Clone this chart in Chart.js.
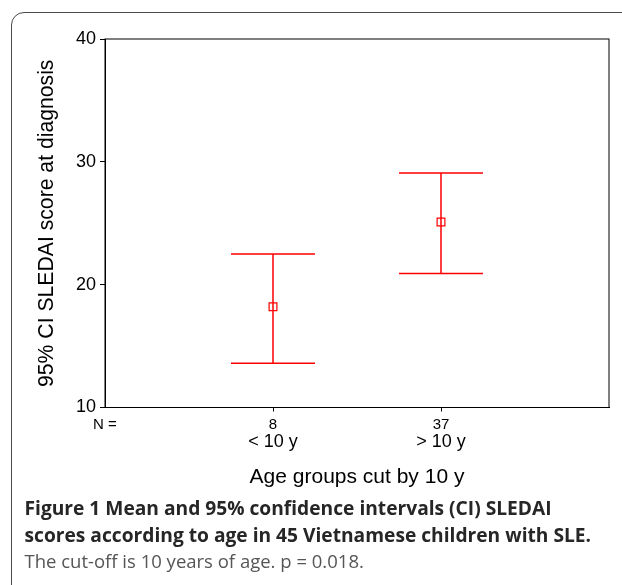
<!DOCTYPE html>
<html>
<head>
<meta charset="utf-8">
<script src="https://cdn.jsdelivr.net/npm/chart.js@4.4.1/dist/chart.umd.min.js"></script>
<style>
  body { margin: 0; background: #fff; }
  #panel { position: absolute; left: 11px; top: 12px; width: 660px; height: 640px;
           border: 1.5px solid #4a4a4a; border-radius: 13px; }
  #wrap { position: absolute; left: 0; top: 0; width: 622px; height: 500px; }
  #caption { position: absolute; left: 24.5px; top: 495px; font-family: 'Open Sans', sans-serif;
             color: #262626; white-space: nowrap; }
  #caption div { height: 26.5px; line-height: 26.5px; }
  #caption .b { font-weight: 700; font-size: 19.2px; }
  #caption .sub { color: #555; font-size: 18.5px; }
</style>
</head>
<body>
<div id="panel"></div>
<div id="wrap"><canvas id="Cnvs1"></canvas></div>
<div id="caption">
  <div class="b">Figure 1 Mean and 95% confidence intervals (CI) SLEDAI</div>
  <div class="b">scores according to age in 45 Vietnamese children with SLE.</div>
  <div class="sub">The cut-off is 10 years of age. p = 0.018.</div>
</div>
<script>
  // groups on the x axis (position 0 holds the "N =" row label)
  var groupPos = [1, 2];
  var groupLabels = ['< 10 y', '> 10 y'];
  var groupN = [8, 37];
  // mean and 95% CI of SLEDAI score
  var means = [18.2, 25.1];
  var lower = [13.6, 20.9];
  var upper = [22.5, 29.1];
  var yTicks = [10, 20, 30, 40];

  var fam = "'Liberation Sans', Arial, Helvetica, sans-serif";

  // draws the CI whiskers and the box around the plot
  var errorBars = {
    id: 'errorBars',
    afterDatasetsDraw: function(chart) {
      var c = chart.ctx, xs = chart.scales.x, ys = chart.scales.y;
      c.save();
      c.strokeStyle = '#ff0000';
      c.lineWidth = 1.5;
      for (var i = 0; i < groupPos.length; i++) {
        var x = xs.getPixelForValue(groupPos[i]);
        var x0 = xs.getPixelForValue(groupPos[i] - 0.25);
        var x1 = xs.getPixelForValue(groupPos[i] + 0.25);
        var yl = ys.getPixelForValue(lower[i]);
        var yu = ys.getPixelForValue(upper[i]);
        c.beginPath();
        c.moveTo(x, yu); c.lineTo(x, yl);
        c.moveTo(x0, yu); c.lineTo(x1, yu);
        c.moveTo(x0, yl); c.lineTo(x1, yl);
        c.stroke();
      }
      var a = chart.chartArea;
      c.strokeStyle = '#000';
      c.lineWidth = 1;
      c.strokeRect(a.left, a.top, a.right - a.left, a.bottom - a.top);
      c.restore();
    }
  };

  var Cnvs = document.getElementById('Cnvs1').getContext('2d');
  var ciChart = new Chart(Cnvs, {
    type: 'scatter',
    data: {
      datasets: [{
        data: groupPos.map(function(x, i) { return { x: x, y: means[i] }; }),
        pointStyle: 'rect',
        pointRadius: 5.5,
        pointHoverRadius: 5.5,
        borderColor: '#ff0000',
        backgroundColor: 'rgba(0,0,0,0)',
        borderWidth: 1.2
      }]
    },
    options: {
      responsive: true,
      maintainAspectRatio: false,
      animation: false,
      layout: { padding: { top: 39, right: 13, bottom: 0, left: 0 } },
      plugins: { legend: { display: false }, tooltip: { enabled: false } },
      scales: {
        // row of group sizes
        x: {
          type: 'linear', min: 0, max: 3, position: 'bottom',
          afterBuildTicks: function(s) {
            s.ticks = [{ value: 0 }].concat(groupPos.map(function(v) { return { value: v }; }));
          },
          afterFit: function(s) { s.height = 24; },
          ticks: {
            color: '#000', padding: 4, maxRotation: 0, autoSkip: false,
            font: { family: fam, size: 15 },
            callback: function(v) {
              if (v === 0) return 'N =';
              return String(groupN[groupPos.indexOf(v)]);
            }
          },
          grid: {
            drawOnChartArea: false, tickLength: 4,
            color: function(ctx) { return ctx.tick && ctx.tick.value === 0 ? 'rgba(0,0,0,0)' : '#000'; }
          },
          border: { color: '#000' }
        },
        // row of group names + axis title
        xg: {
          type: 'linear', axis: 'x', min: 0, max: 3, position: 'bottom',
          afterBuildTicks: function(s) { s.ticks = groupPos.map(function(v) { return { value: v }; }); },
          afterFit: function(s) { s.height = 68.5; },
          ticks: {
            color: '#000', padding: 0, maxRotation: 0, autoSkip: false,
            font: { family: fam, size: 18 },
            callback: function(v) { return groupLabels[groupPos.indexOf(v)]; }
          },
          grid: { display: false, drawTicks: false },
          border: { display: false },
          title: {
            display: true, text: 'Age groups cut by 10 y', color: '#000',
            font: { family: fam, size: 21 }, padding: { top: 0, bottom: 10 }
          }
        },
        y: {
          min: 10, max: 40,
          afterBuildTicks: function(s) { s.ticks = yTicks.map(function(v) { return { value: v }; }); },
          afterFit: function(s) { s.width = 105; },
          ticks: { color: '#000', padding: 4, font: { family: fam, size: 18 } },
          grid: { drawOnChartArea: false, tickLength: 5, color: '#000' },
          border: { color: '#000' },
          title: {
            display: true, text: '95% CI SLEDAI score at diagnosis', color: '#000',
            font: { family: fam, size: 21.2 }, padding: { top: 34.5, bottom: 0 }
          }
        }
      }
    },
    plugins: [errorBars]
  });
</script>
</body>
</html>
